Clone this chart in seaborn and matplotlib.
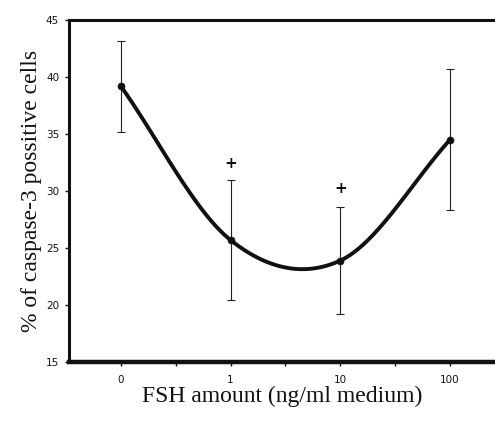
import numpy as np
import pandas as pd
import matplotlib
matplotlib.use("Agg")
import matplotlib.pyplot as plt
import seaborn as sns

# ====================== DATA ======================
doses = ["0", "1", "10", "100"]
caspase_pct = [39.2, 25.7, 23.9, 34.5]
err_pct = [4.0, 5.3, 4.7, 6.2]
signif_y = [32.4, 30.2]          # "+" marks above doses 1 and 10
signif_dose = [1, 2]

df = pd.DataFrame({"pos": np.arange(len(doses)), "pct": caspase_pct, "err": err_pct})

# smooth line through the means (Catmull-Rom, like the spreadsheet "smoothed line")
def smooth(y, n=40):
    y = np.asarray(y, float)
    pad = np.r_[y[0] - (y[1] - y[0]), y, y[-1] + (y[-1] - y[-2])]
    xs, ys = [], []
    for i in range(len(y) - 1):
        p0, p1, p2, p3 = pad[i:i + 4]
        m1, m2 = (p2 - p0) / 2, (p3 - p1) / 2
        t = np.linspace(0, 1, n)
        h = ((2*t**3 - 3*t**2 + 1) * p1 + (t**3 - 2*t**2 + t) * m1
             + (-2*t**3 + 3*t**2) * p2 + (t**3 - t**2) * m2)
        xs.append(i + t)
        ys.append(h)
    return np.concatenate(xs), np.concatenate(ys)

sx, sy = smooth(caspase_pct)
curve = pd.DataFrame({"x": sx, "y": sy})

# ====================== PLOT ======================
sns.set_style("ticks")
fig = plt.figure(figsize=(4.95, 4.21), dpi=100)
ax = fig.add_axes([0.139, 0.140, 0.861, 0.8125])

ax.errorbar(df["pos"], df["pct"], yerr=df["err"], fmt="none", ecolor="#222222",
            elinewidth=0.8, capsize=3, capthick=0.8, zorder=2)
sns.lineplot(data=curve, x="x", y="y", ax=ax, color="#111111", linewidth=2.8,
             sort=False, estimator=None, zorder=3)
sns.scatterplot(data=df, x="pos", y="pct", ax=ax, color="#111111", marker="o",
                s=26, edgecolor="#111111", zorder=4)
for d, yy in zip(signif_dose, signif_y):
    ax.text(d, yy, "+", ha="center", va="center", fontsize=11, fontweight="bold",
            color="#111111")

ax.set_xlim(-0.474, 3.41)
ax.set_ylim(15, 45)
ax.set_yticks([15, 20, 25, 30, 35, 40, 45])
ax.set_xticks(range(len(doses)))
ax.set_xticklabels(doses)
ax.set_xticks([0.5, 1.5, 2.5], minor=True)
ax.tick_params(axis="both", which="both", direction="out", length=3, width=1,
               labelsize=7.5, colors="#111111")
ax.tick_params(axis="x", pad=6)
ax.tick_params(axis="y", pad=4)

for s in ["left", "top"]:
    ax.spines[s].set_linewidth(2.2)
ax.spines["bottom"].set_linewidth(3.2)
ax.spines["right"].set_visible(False)
for s in ax.spines.values():
    s.set_color("#111111")

ax.set_xlabel("FSH amount (ng/ml medium)", fontsize=17, family="Liberation Serif",
              labelpad=1, color="#111111")
ax.set_ylabel("% of caspase-3 possitive cells", fontsize=17, family="Liberation Serif",
              labelpad=3, color="#111111")

fig.savefig("out.png", dpi=100)
